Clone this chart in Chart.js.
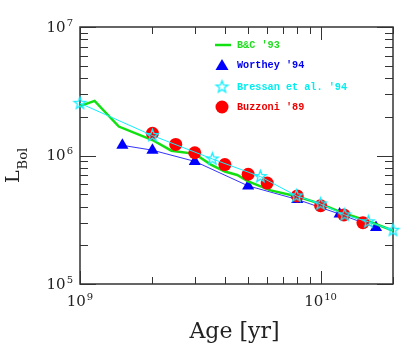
<!DOCTYPE html>
<html>
<head>
<meta charset="utf-8">
<script src="https://cdn.jsdelivr.net/npm/chart.js@4.4.1/dist/chart.umd.min.js"></script>
<style>
  html, body { margin: 0; padding: 0; background: #fff; }
</style>
</head>
<body>
<canvas id="c" width="415" height="347"></canvas>
<script>
// B&C '93 (line)
const bcAge = [1.0e9, 1.15e9, 1.45e9, 2.0e9, 2.4e9, 3.0e9, 3.5e9, 4.0e9, 4.5e9, 5.0e9, 6.2e9, 8.0e9, 1.0e10, 1.25e10, 1.6e10, 2.0e10];
const bcL = [2.43e6, 2.66e6, 1.68e6, 1.32e6, 1.09e6, 1.03e6, 8.5e5, 7.5e5, 7.05e5, 6.3e5, 5.35e5, 4.8e5, 4.2e5, 3.55e5, 3.05e5, 2.6e5];

// Worthey '94 (triangles)
const worAge = [1.5e9, 2.0e9, 3.0e9, 5.0e9, 8.0e9, 1.2e10, 1.7e10];
const worL = [1.2e6, 1.1e6, 9.0e5, 5.8e5, 4.55e5, 3.5e5, 2.75e5];

// Bressan et al. '94 (stars)
const breAge = [1.0e9, 2.0e9, 3.55e9, 5.62e9, 7.94e9, 1.0e10, 1.26e10, 1.58e10, 2.0e10];
const breL = [2.55e6, 1.43e6, 9.4e5, 6.85e5, 4.85e5, 4.2e5, 3.45e5, 3.05e5, 2.62e5];

// Buzzoni '89 (circles)
const buzAge = [2.0e9, 2.5e9, 3.0e9, 4.0e9, 5.0e9, 6.0e9, 8.0e9, 1.0e10, 1.25e10, 1.5e10];
const buzL = [1.49e6, 1.22e6, 1.05e6, 8.5e5, 7.15e5, 6.1e5, 4.85e5, 4.07e5, 3.45e5, 3.0e5];

const xDecades = [9, 10];
const yDecades = [5, 6, 7];
const xMin = 1e9, xMax = 2e10;
const yMin = 1e5, yMax = 1e7;

const legendItems = [
  { text: "B&C '93", color: "#22dd22", mark: "line" },
  { text: "Worthey '94", color: "#0000ee", mark: "tri" },
  { text: "Bressan et al. '94", color: "#00eeee", mark: "star" },
  { text: "Buzzoni '89", color: "#ee0000", mark: "circle" }
];

const C_GREEN = "#11e011", C_BLUE = "#0000ff", C_CYAN = "#11eeff", C_RED = "#ff0000";

// open 5-point star used as point style
function makeStar(r) {
  const cv = document.createElement("canvas");
  const s = Math.ceil(r * 2 + 4);
  cv.width = s; cv.height = s;
  const g = cv.getContext("2d");
  g.strokeStyle = C_CYAN;
  g.lineWidth = 1.3;
  g.beginPath();
  for (let i = 0; i < 10; i++) {
    const rr = i % 2 === 0 ? r : r * 0.42;
    const a = -Math.PI / 2 + i * Math.PI / 5;
    const px = s / 2 + rr * Math.cos(a), py = s / 2 + rr * Math.sin(a);
    if (i === 0) g.moveTo(px, py); else g.lineTo(px, py);
  }
  g.closePath();
  g.stroke();
  return cv;
}
const starImg = makeStar(6.2);

const pts = (xs, ys) => xs.map((x, i) => ({ x, y: ys[i] }));

function drawPow(ctx, exp, x, y, align) {
  ctx.save();
  ctx.fillStyle = "#222";
  ctx.textBaseline = "middle";
  ctx.textAlign = "left";
  ctx.font = "15px 'DejaVu Serif'";
  const wb = ctx.measureText("10").width;
  ctx.font = "10px 'DejaVu Serif'";
  const we = ctx.measureText(String(exp)).width;
  let x0 = align === "right" ? x - wb - we - 1 : x - (wb + we + 1) / 2;
  ctx.font = "15px 'DejaVu Serif'";
  ctx.fillText("10", x0, y);
  ctx.font = "10px 'DejaVu Serif'";
  ctx.fillText(String(exp), x0 + wb + 1, y - 5);
  ctx.restore();
}

const framePlugin = {
  id: "frame",
  beforeDatasetsDraw(chart) {
    const { ctx, chartArea: a } = chart;
    const xs = chart.scales.x, ys = chart.scales.y;
    ctx.save();
    ctx.strokeStyle = "#333";
    ctx.lineWidth = 1;
    ctx.beginPath();
    xDecades.forEach(d => {
      for (let m = 1; m <= 9; m++) {
        const v = m * Math.pow(10, d);
        if (v < xMin || v > xMax) continue;
        const px = Math.round(xs.getPixelForValue(v)) + 0.5;
        const len = m === 1 ? 13 : 7;
        ctx.moveTo(px, a.bottom); ctx.lineTo(px, a.bottom - len);
        ctx.moveTo(px, a.top); ctx.lineTo(px, a.top + len);
      }
    });
    yDecades.forEach(d => {
      for (let m = 1; m <= 9; m++) {
        const v = m * Math.pow(10, d);
        if (v < yMin || v > yMax) continue;
        const py = Math.round(ys.getPixelForValue(v)) + 0.5;
        const len = m === 1 ? 16 : 8;
        ctx.moveTo(a.left, py); ctx.lineTo(a.left + len, py);
        ctx.moveTo(a.right, py); ctx.lineTo(a.right - len, py);
      }
    });
    ctx.stroke();
    ctx.lineWidth = 1.5;
    ctx.strokeRect(a.left, a.top, a.right - a.left, a.bottom - a.top);

    // tick labels
    xDecades.forEach(d => drawPow(ctx, d, xs.getPixelForValue(Math.pow(10, d)), a.bottom + 18, "center"));
    yDecades.forEach(d => drawPow(ctx, d, a.left - 7, ys.getPixelForValue(Math.pow(10, d)) + 1, "right"));

    // axis titles
    ctx.fillStyle = "#222";
    ctx.font = "22px 'DejaVu Serif'";
    ctx.textAlign = "center";
    ctx.textBaseline = "alphabetic";
    ctx.fillText("Age [yr]", (a.left + a.right) / 2 - 2, 338);

    ctx.translate(19, 183);
    ctx.rotate(-Math.PI / 2);
    ctx.textAlign = "left";
    ctx.font = "19px 'DejaVu Serif'";
    ctx.fillText("L", 0, 0);
    const wl = ctx.measureText("L").width;
    ctx.font = "13px 'DejaVu Serif'";
    ctx.fillText("Bol", wl + 1, 8);
    ctx.restore();
  },
  afterDraw(chart) {
    const { ctx } = chart;
    ctx.save();
    const mx = 222, tx = 237, rows = [45, 65, 87, 107];
    legendItems.forEach((it, i) => {
      const y = rows[i];
      if (it.mark === "line") {
        ctx.strokeStyle = C_GREEN; ctx.lineWidth = 2.5;
        ctx.beginPath(); ctx.moveTo(215, y); ctx.lineTo(231, y); ctx.stroke();
      } else if (it.mark === "tri") {
        ctx.fillStyle = C_BLUE;
        ctx.beginPath();
        ctx.moveTo(mx, y - 6); ctx.lineTo(mx + 6.5, y + 5); ctx.lineTo(mx - 6.5, y + 5);
        ctx.closePath(); ctx.fill();
      } else if (it.mark === "star") {
        ctx.drawImage(starImg, mx - starImg.width / 2, y - starImg.height / 2);
      } else {
        ctx.fillStyle = C_RED;
        ctx.beginPath(); ctx.arc(mx, y, 6.5, 0, Math.PI * 2); ctx.fill();
      }
      ctx.fillStyle = it.color;
      ctx.font = "bold 10.2px 'Liberation Mono'";
      ctx.textBaseline = "middle";
      ctx.textAlign = "left";
      ctx.fillText(it.text, tx, y);
    });
    ctx.restore();
  }
};

new Chart(document.getElementById("c"), {
  type: "line",
  data: {
    datasets: [
      {
        label: "Bressan et al. '94",
        data: pts(breAge, breL),
        borderColor: C_CYAN,
        borderWidth: 1,
        pointStyle: starImg,
        pointRadius: 6,
        clip: false,
        order: 0
      },
      {
        label: "Buzzoni '89",
        data: pts(buzAge, buzL),
        showLine: false,
        pointStyle: "circle",
        pointRadius: 6.5,
        pointBackgroundColor: C_RED,
        pointBorderColor: C_RED,
        pointBorderWidth: 0,
        order: 1
      },
      {
        label: "B&C '93",
        data: pts(bcAge, bcL),
        borderColor: C_GREEN,
        borderWidth: 2.5,
        pointRadius: 0,
        order: 2
      },
      {
        label: "Worthey '94",
        data: pts(worAge, worL),
        borderColor: "#3333ff",
        borderWidth: 1,
        pointStyle: "triangle",
        pointRadius: 7,
        pointBackgroundColor: C_BLUE,
        pointBorderColor: C_BLUE,
        pointBorderWidth: 0,
        clip: false,
        order: 3
      }
    ]
  },
  options: {
    responsive: false,
    animation: false,
    events: [],
    layout: { padding: { top: 27, right: 22, left: 0, bottom: 0 } },
    plugins: { legend: { display: false }, tooltip: { enabled: false } },
    scales: {
      x: {
        type: "logarithmic",
        min: xMin, max: xMax,
        grid: { display: false },
        border: { display: false },
        ticks: { display: false },
        afterFit: s => { s.height = 63; }
      },
      y: {
        type: "logarithmic",
        min: yMin, max: yMax,
        grid: { display: false },
        border: { display: false },
        ticks: { display: false },
        afterFit: s => { s.width = 80; }
      }
    }
  },
  plugins: [framePlugin]
});
</script>
</body>
</html>
